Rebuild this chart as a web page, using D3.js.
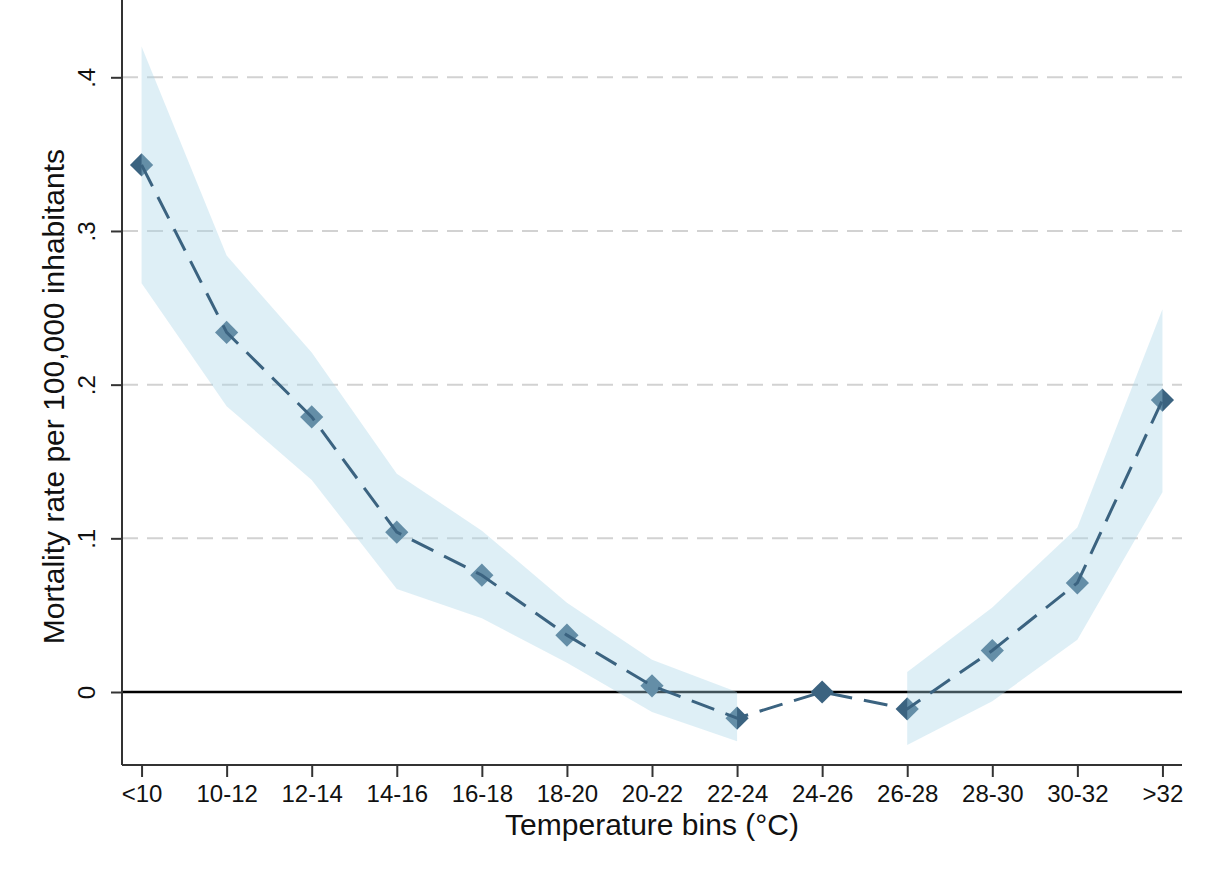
<!DOCTYPE html>
<html lang="en">
<head>
<meta charset="UTF-8">
<title>Mortality by temperature bin</title>
<script src="https://cdn.jsdelivr.net/npm/d3@7"></script>
<style>
  html, body { margin: 0; padding: 0; background: #fff; }
  svg { display: block; font-family: "Liberation Sans", Arial, Helvetica, sans-serif; }
</style>
</head>
<body>
<svg id="chart" width="1212" height="878"></svg>
<script>
// temperature bins on the x axis
const bins = ["<10", "10-12", "12-14", "14-16", "16-18", "18-20", "20-22",
              "22-24", "24-26", "26-28", "28-30", "30-32", ">32"]
// point estimates (24-26 is the reference bin)
const estimate = [0.343, 0.234, 0.179, 0.104, 0.076, 0.037, 0.004,
                  -0.017, 0, -0.011, 0.027, 0.071, 0.190]
// confidence interval bounds, none for the reference bin
const ciLow  = [0.266, 0.186, 0.138, 0.067, 0.048, 0.019, -0.013,
                -0.032, null, -0.0345, -0.006, 0.034, 0.130]
const ciHigh = [0.420, 0.284, 0.221, 0.142, 0.105, 0.058, 0.021,
                0.000, null, 0.013, 0.055, 0.107, 0.249]
const yTicks = [0, 0.1, 0.2, 0.3, 0.4]
const yTickLabels = ["0", ".1", ".2", ".3", ".4"]

const svg = d3.select('#chart')
const plotLeft = 122, plotRight = 1182, plotTop = 0, plotBottom = 765

const x = d3.scalePoint().domain(bins).range([plotLeft, plotRight]).padding(0.23)
const y = d3.scaleLinear().domain([-0.0475, 0.4503]).range([plotBottom, plotTop])

const rows = bins.map((b, i) => ({ bin: b, est: estimate[i], lo: ciLow[i], hi: ciHigh[i] }))

// dashed grid lines
svg.append('g').selectAll('line').data(yTicks.filter(d => d !== 0))
  .enter().append('line')
  .attr('x1', plotLeft).attr('x2', plotRight)
  .attr('y1', d => y(d)).attr('y2', d => y(d))
  .attr('stroke', '#d2d2d2').attr('stroke-width', 2)
  .attr('stroke-dasharray', '16,9')

// zero line
svg.append('line')
  .attr('x1', plotLeft).attr('x2', plotRight)
  .attr('y1', y(0)).attr('y2', y(0))
  .attr('stroke', '#000').attr('stroke-width', 2.5)

// axes
const yAxis = svg.append('g')
  .attr('transform', `translate(${plotLeft},0)`)
  .call(d3.axisLeft(y).tickValues(yTicks).tickFormat((d, i) => yTickLabels[i]).tickSize(11).tickSizeOuter(0))
yAxis.select('.domain').remove()
yAxis.append('line').attr('x1', 0).attr('x2', 0).attr('y1', plotTop).attr('y2', plotBottom)
  .attr('stroke', '#333').attr('stroke-width', 2)
yAxis.selectAll('.tick line').attr('stroke', '#333').attr('stroke-width', 2)
yAxis.selectAll('.tick text')
  .attr('x', 0).attr('dy', 0).attr('y', 0)
  .attr('transform', 'translate(-27,0) rotate(-90)')
  .attr('text-anchor', 'middle')
  .attr('font-size', 24).attr('fill', '#111')

const xAxis = svg.append('g')
  .attr('transform', `translate(0,${plotBottom})`)
  .call(d3.axisBottom(x).tickSize(12).tickSizeOuter(0))
xAxis.select('.domain').remove()
xAxis.append('line').attr('x1', plotLeft).attr('x2', plotRight).attr('y1', 0).attr('y2', 0)
  .attr('stroke', '#333').attr('stroke-width', 2)
xAxis.selectAll('.tick line').attr('stroke', '#333').attr('stroke-width', 2)
xAxis.selectAll('.tick text')
  .attr('y', 37).attr('dy', 0)
  .attr('font-size', 24).attr('fill', '#111')
svg.selectAll('g').attr('font-family', null)

// axis titles
svg.append('text')
  .attr('x', (plotLeft + plotRight) / 2).attr('y', 835)
  .attr('text-anchor', 'middle').attr('font-size', 30).attr('fill', '#111')
  .text('Temperature bins (°C)')
svg.append('text')
  .attr('transform', `translate(64,${y(0.2) + 12}) rotate(-90)`)
  .attr('text-anchor', 'middle').attr('font-size', 30).attr('fill', '#111')
  .text('Mortality rate per 100,000 inhabitants')

// markers (drawn under the band, which tints them)
svg.append('g').selectAll('path').data(rows)
  .enter().append('path')
  .attr('d', d3.symbol(d3.symbolSquare, 270))
  .attr('transform', d => `translate(${x(d.bin)},${y(d.est)}) rotate(45)`)
  .attr('fill', '#3b6380')

// confidence band
const area = d3.area()
  .defined(d => d.lo !== null)
  .x(d => x(d.bin))
  .y0(d => y(d.lo))
  .y1(d => y(d.hi))
svg.append('path').datum(rows)
  .attr('d', area)
  .attr('fill', 'rgb(168,212,232)').attr('fill-opacity', 0.38)

// dashed estimate line
const line = d3.line().x(d => x(d.bin)).y(d => y(d.est))
svg.append('path').datum(rows)
  .attr('d', line)
  .attr('fill', 'none').attr('stroke', '#3b6380')
  .attr('stroke-width', 3).attr('stroke-dasharray', '24,12')
</script>
</body>
</html>
